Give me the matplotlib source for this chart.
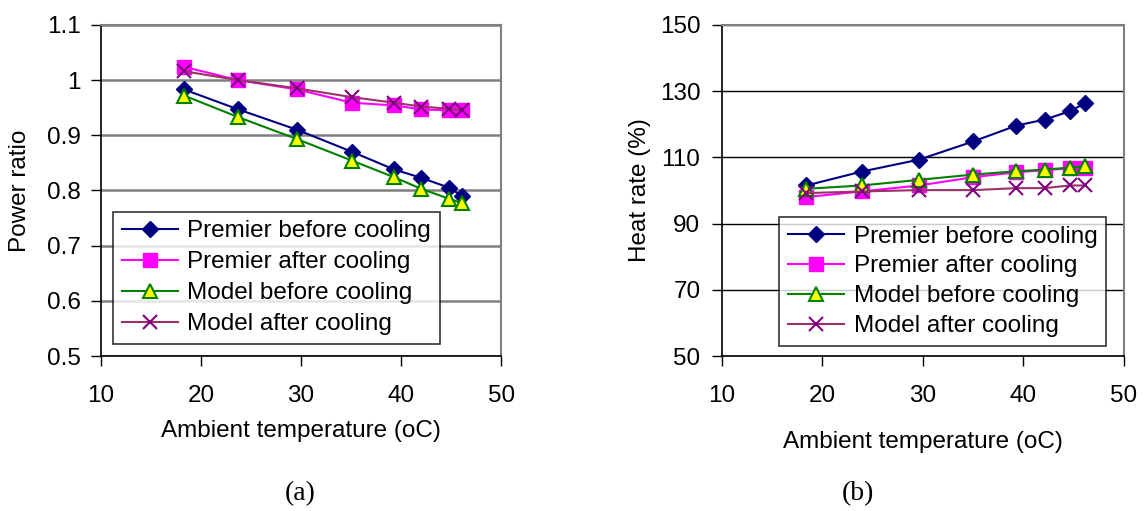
import matplotlib
matplotlib.use("Agg")
import matplotlib.pyplot as plt

plt.rcParams['font.family'] = ['Liberation Sans', 'DejaVu Sans']

# (a) power ratio
temp_a = [18.3, 23.7, 29.6, 35.1, 39.3, 42.0, 44.8, 46.1]
premier_before_a = [0.983, 0.947, 0.910, 0.870, 0.838, 0.823, 0.805, 0.790]
premier_after_a = [1.024, 1.000, 0.983, 0.959, 0.954, 0.947, 0.945, 0.945]
model_before_a = [0.972, 0.933, 0.893, 0.854, 0.824, 0.803, 0.785, 0.777]
model_after_a = [1.016, 1.000, 0.985, 0.969, 0.959, 0.952, 0.948, 0.945]

# (b) heat rate
temp_b = [18.4, 23.9, 29.6, 35.0, 39.3, 42.1, 44.6, 46.1]
premier_before_b = [101.5, 105.7, 109.3, 114.8, 119.6, 121.4, 123.9, 126.3]
premier_after_b = [98.0, 99.7, 101.5, 104.0, 105.5, 106.1, 106.7, 106.9]
model_before_b = [100.5, 101.5, 103.2, 104.8, 105.8, 106.3, 106.9, 107.3]
model_after_b = [99.2, 99.7, 100.1, 100.1, 100.7, 100.7, 101.5, 101.5]

labels = ["Premier before cooling", "Premier after cooling",
          "Model before cooling", "Model after cooling"]
styles = [
    dict(color='#000080', marker='D', ms=8, mfc='#000080', mec='#000080'),
    dict(color='#FF00FF', marker='s', ms=10, mfc='#FF00FF', mec='#FF00FF'),
    dict(color='#008000', marker='^', ms=10, mfc='#FFFF00', mec='#008000', mew=1.5),
    dict(color='#993366', marker='x', ms=10, mfc='#800080', mec='#800080', mew=1.5),
]

FS = 17.5

fig = plt.figure(figsize=(11.44, 5.11), dpi=100)
ax1 = fig.add_axes([0.0883, 0.3033, 0.3497, 0.648])
ax2 = fig.add_axes([0.6311, 0.3033, 0.3514, 0.648])


def setup(ax, grid_color, grid_lw, ypad):
    ax.set_xlim(10, 50)
    ax.set_xticks([10, 20, 30, 40, 50])
    for side in ['top', 'right']:
        ax.spines[side].set_color('#808080')
        ax.spines[side].set_linewidth(1.5)
    for side in ['left', 'bottom']:
        ax.spines[side].set_color('black')
        ax.spines[side].set_linewidth(1.2)
    ax.yaxis.grid(True, color=grid_color, lw=grid_lw)
    ax.set_axisbelow(True)
    ax.tick_params(direction='out', length=7, width=1, labelsize=FS)
    ax.tick_params(axis='x', pad=14)
    ax.tick_params(axis='y', pad=ypad)


setup(ax1, '#808080', 1.8, 7.5)
ax1.set_ylim(0.5, 1.1)
ax1.set_yticks([0.5, 0.6, 0.7, 0.8, 0.9, 1.0, 1.1])
ax1.set_yticklabels(["0.5", "0.6", "0.7", "0.8", "0.9", "1", "1.1"])
ax1.set_ylabel("Power ratio", fontsize=FS, va='center')
ax1.yaxis.set_label_coords(-0.2025, 0.5)
ax1.set_xlabel("Ambient temperature (oC)", fontsize=FS, labelpad=9)
for y, lab, st in zip([premier_before_a, premier_after_a, model_before_a, model_after_a], labels, styles):
    ax1.plot(temp_a, y, lw=1.5, label=lab, **st)
leg1 = ax1.legend(loc='lower left', bbox_to_anchor=(0.0, 0.0), fontsize=FS, frameon=True,
                  fancybox=False, edgecolor='black', handlelength=2.3, borderpad=0.35,
                  labelspacing=0.37, handletextpad=0.4)
leg1.get_frame().set_linewidth(1.2)

setup(ax2, 'black', 1.0, 8.5)
ax2.set_ylim(50, 150)
ax2.set_yticks([50, 70, 90, 110, 130, 150])
ax2.set_ylabel("Heat rate (%)", fontsize=FS, va='center')
ax2.yaxis.set_label_coords(-0.204, 0.5)
ax2.set_xlabel("Ambient temperature (oC)", fontsize=FS, labelpad=17)
for y, lab, st in zip([premier_before_b, premier_after_b, model_before_b, model_after_b], labels, styles):
    ax2.plot(temp_b, y, lw=1.5, label=lab, **st)
leg2 = ax2.legend(loc='lower right', bbox_to_anchor=(0.985, -0.005), fontsize=FS, frameon=True,
                  fancybox=False, edgecolor='black', handlelength=2.3, borderpad=0.35,
                  labelspacing=0.32, handletextpad=0.4)
leg2.get_frame().set_linewidth(1.2)

fig.text(300 / 1144, 1 - 494 / 511, "(a)", fontsize=20, family='Liberation Serif',
         ha='center', va='center')
fig.text(858 / 1144, 1 - 494 / 511, "(b)", fontsize=20, family='Liberation Serif',
         ha='center', va='center')

fig.savefig("out.png", dpi=100)
